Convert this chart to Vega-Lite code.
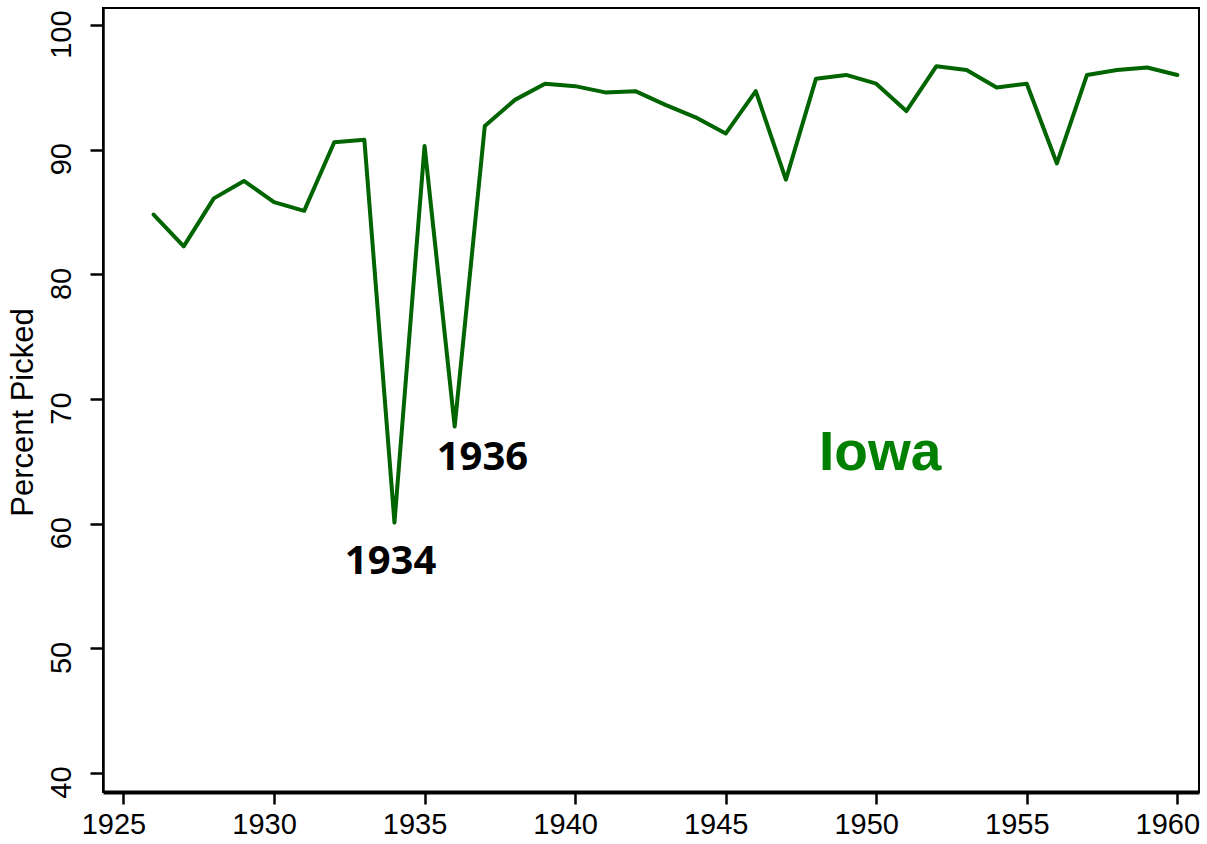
{
  "$schema": "https://vega.github.io/schema/vega-lite/v6.json",
  "autosize": "none",
  "width": 1096,
  "height": 784,
  "padding": {"left": 103, "top": 8, "right": 8, "bottom": 52},
  "background": "white",
  "config": {
    "view": {"stroke": "black", "strokeWidth": 2},
    "axis": {"grid": false, "labelFont": "Liberation Sans", "titleFont": "Liberation Sans", "labelColor": "black", "titleColor": "black", "domainColor": "black", "tickColor": "black"}
  },
  "datasets": {
    "iowa": [
      {"year": 1926, "pct": 84.8}, {"year": 1927, "pct": 82.25}, {"year": 1928, "pct": 86.1},
      {"year": 1929, "pct": 87.5}, {"year": 1930, "pct": 85.8}, {"year": 1931, "pct": 85.1},
      {"year": 1932, "pct": 90.6}, {"year": 1933, "pct": 90.8}, {"year": 1934, "pct": 60.1},
      {"year": 1935, "pct": 90.3}, {"year": 1936, "pct": 67.8}, {"year": 1937, "pct": 91.9},
      {"year": 1938, "pct": 94.0}, {"year": 1939, "pct": 95.3}, {"year": 1940, "pct": 95.1},
      {"year": 1941, "pct": 94.6}, {"year": 1942, "pct": 94.7}, {"year": 1943, "pct": 93.6},
      {"year": 1944, "pct": 92.6}, {"year": 1945, "pct": 91.3}, {"year": 1946, "pct": 94.7},
      {"year": 1947, "pct": 87.6}, {"year": 1948, "pct": 95.7}, {"year": 1949, "pct": 96.0},
      {"year": 1950, "pct": 95.3}, {"year": 1951, "pct": 93.1}, {"year": 1952, "pct": 96.7},
      {"year": 1953, "pct": 96.4}, {"year": 1954, "pct": 95.0}, {"year": 1955, "pct": 95.3},
      {"year": 1956, "pct": 88.9}, {"year": 1957, "pct": 96.0}, {"year": 1958, "pct": 96.4},
      {"year": 1959, "pct": 96.6}, {"year": 1960, "pct": 96.0}
    ],
    "years": [
      {"year": 1933.87, "pct": 56.9, "label": "1934"},
      {"year": 1936.92, "pct": 65.3, "label": "1936"}
    ],
    "state": [
      {"year": 1950.13, "pct": 65.7, "label": "Iowa"}
    ]
  },
  "encoding": {
    "x": {
      "field": "year", "type": "quantitative",
      "scale": {"domain": [1924.32, 1960.72], "nice": false, "zero": false},
      "axis": {"values": [1925, 1930, 1935, 1940, 1945, 1950, 1955, 1960], "format": "d", "title": null,
               "labelFontSize": 29, "labelPadding": 6, "labelOffset": -10, "tickSize": 12, "tickWidth": 2.5, "domainWidth": 4, "labelFlush": false}
    },
    "y": {
      "field": "pct", "type": "quantitative",
      "scale": {"domain": [38.48, 101.37], "nice": false, "zero": false},
      "axis": {"values": [40, 50, 60, 70, 80, 90, 100], "title": "Percent Picked", "titleFontSize": 31, "titleFontWeight": "normal",
               "labelFontSize": 29, "labelAngle": -90, "labelOffset": 9, "labelPadding": 14, "tickSize": 13, "tickWidth": 2.5, "domainWidth": 2.5,
               "labelFlush": false, "titleY": 404, "titlePadding": 8}
    }
  },
  "layer": [
    {"data": {"name": "iowa"}, "mark": {"type": "line", "color": "#006400", "strokeWidth": 4, "strokeJoin": "round", "strokeCap": "round"}},
    {"data": {"name": "years"}, "mark": {"type": "text", "font": "Open Sans", "fontWeight": "bold", "fontSize": 40, "color": "black", "align": "center", "baseline": "middle"},
     "encoding": {"text": {"field": "label"}}},
    {"data": {"name": "state"}, "mark": {"type": "text", "font": "Liberation Sans", "fontWeight": "bold", "fontSize": 55, "color": "#008000", "align": "center", "baseline": "middle"},
     "encoding": {"text": {"field": "label"}}}
  ]
}
